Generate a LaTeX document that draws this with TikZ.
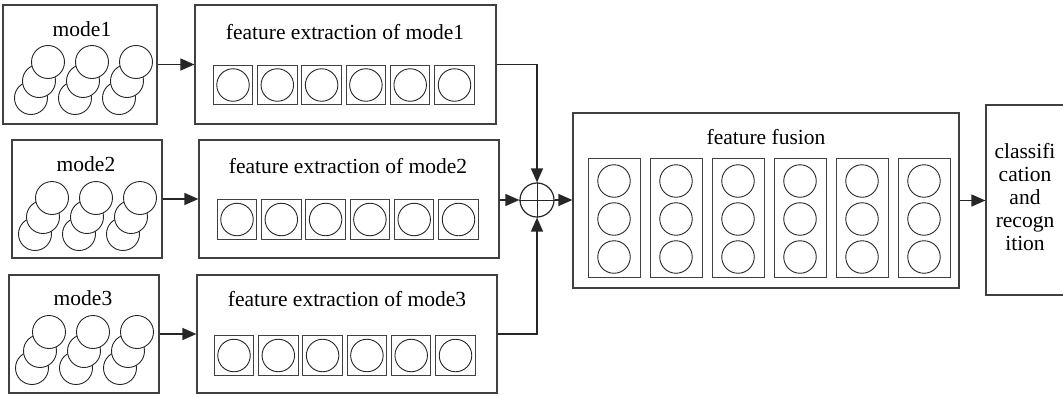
\documentclass[tikz,border=0pt]{standalone}
\usepackage{fontspec}
\setmainfont{Liberation Serif}
\usetikzlibrary{arrows.meta}
\begin{document}
\begin{tikzpicture}[x=1pt,y=-1pt,
 box/.style={draw=black!75, line width=1.2pt, inner sep=0pt},
 cell/.style={draw=black!75, line width=1pt, inner sep=0pt, minimum size=39.5pt},
 col/.style={draw=black!75, line width=1pt, inner sep=0pt, minimum width=52pt, minimum height=119pt},
 ring/.style={circle, draw=black!85, line width=0.9pt, fill=white, inner sep=0pt, minimum size=33pt},
 sring/.style={circle, draw=black!85, line width=0.9pt, inner sep=0pt, minimum size=32.5pt},
 lbl/.style={font=\fontsize{21.5}{23}\selectfont, inner sep=0pt},
 arr/.style={draw=black!85, line width=1.4pt, -{Triangle[length=14pt,width=12pt]}},
 con/.style={draw=black!85, line width=1.4pt}]
\useasboundingbox (0,0) rectangle (1063,397);
\clip (0,0) rectangle (1063,397);

% mode boxes
\node[box, minimum width=154pt, minimum height=119pt] (m1) at (80,64.5) {};
\node[box, minimum width=150pt, minimum height=118pt] (m2) at (87,199) {};
\node[box, minimum width=150pt, minimum height=118pt] (m3) at (84,334) {};
\node[lbl] (m1t) at (82,29) {mode1};
\node[lbl] (m2t) at (86,164) {mode2};
\node[lbl] (m3t) at (83,298) {mode3};

% stacked circles
\foreach \r/\x/\y in {1/48/62, 2/52/198, 3/49/332}{
  \foreach \g in {0,1,2}{
    \node[ring] (b\r\g) at ({\x-17+44*\g},{\y+36}) {};
    \node[ring] (k\r\g) at ({\x-9+44*\g},{\y+19}) {};
    \node[ring] (t\r\g) at ({\x+44*\g},\y) {};
  }
}

% feature extraction boxes
\node[box, minimum width=301pt, minimum height=119pt] (fe1) at (345.5,64.5) {};
\node[box, minimum width=300pt, minimum height=118pt] (fe2) at (349,199) {};
\node[box, minimum width=300pt, minimum height=118pt] (fe3) at (347,334) {};
\node[lbl] (fe1t) at (345,32) {feature extraction of mode1};
\node[lbl] (fe2t) at (348,166) {feature extraction of mode2};
\node[lbl] (fe3t) at (347,299) {feature extraction of mode3};

\foreach \r/\x/\y in {1/233/85, 2/237/219.5, 3/234/355.5}{
  \foreach \i in {0,...,5}{
    \node[cell] (c\r\i) at ({\x+44.3*\i},\y) {};
    \node[sring] (s\r\i) at (c\r\i) {};
  }
}

% sum node
\node[circle, draw=black!85, line width=1.2pt, minimum size=34pt, inner sep=0pt] (plus) at (537,200) {};
\draw[con, line width=1pt] (plus.north) -- (plus.south);
\draw[con, line width=1pt] (plus.west) -- (plus.east);

% feature fusion
\node[box, minimum width=386pt, minimum height=175pt] (fu) at (766,200.5) {};
\node[lbl] (fut) at (766,137) {feature fusion};
\foreach \i in {0,...,5}{
  \node[col] (col\i) at ({614+62*\i},217.5) {};
  \node[sring] (fa\i) at ({614+62*\i},181) {};
  \node[sring] (fb\i) at ({614+62*\i},219) {};
  \node[sring] (fc\i) at ({614+62*\i},257) {};
}

% classification
\node[box, minimum width=100pt, minimum height=190pt] (cls) at (1036,200) {};
\node[lbl, align=center] (clst) at (1025,197) {classifi\\cation\\and\\recogn\\ition};

% connectors
\draw[arr] (m1.east) -- (fe1.west);
\draw[arr] (m2.east) -- (fe2.west);
\draw[arr] (m3.east) -- (fe3.west);
\draw[arr] (fe1.east) -| (plus.north);
\draw[arr] (fe2.east |- plus.west) -- (plus.west);
\draw[arr] (fe3.east) -| (plus.south);
\draw[arr] (plus.east) -- (fu.west |- plus.east);
\draw[arr] (fu.east) -- (cls.west |- fu.east);
\end{tikzpicture}
\end{document}
